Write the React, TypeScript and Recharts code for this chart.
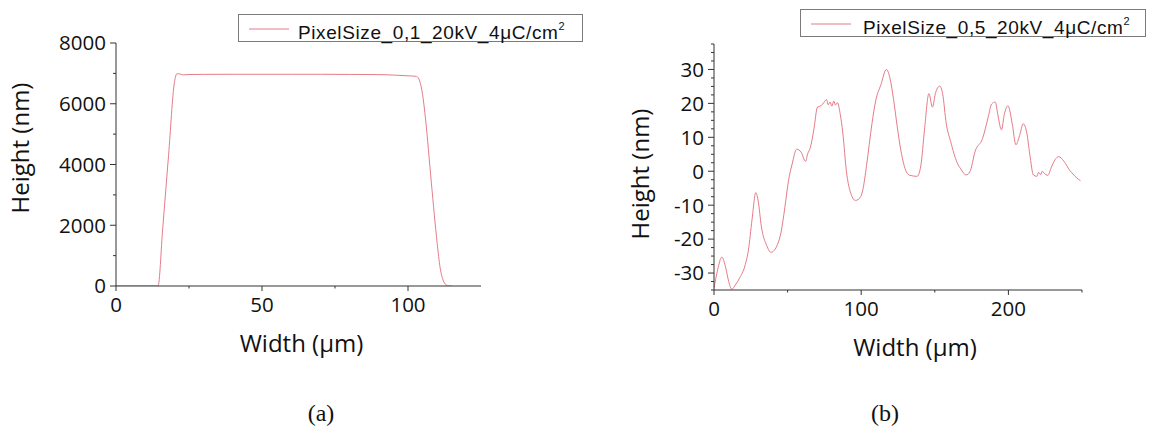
import React from "react";
import { LineChart, Line, XAxis, YAxis, Legend, Label } from "recharts";

// (a) pixel size 0.1
const widthA = [0, 5, 10, 14.4, 16, 18, 20, 20.9, 22, 23, 25, 30, 40, 50, 60, 70, 80, 90, 95, 100, 102.9, 104, 105, 106, 108, 110, 111, 112, 113, 114, 115];
const heightA = [0, 0, 0, 0, 1900, 4300, 6700, 6990, 6975, 6950, 6962, 6968, 6970, 6970, 6970, 6970, 6966, 6960, 6945, 6920, 6900, 6750, 6300, 5500, 3400, 1400, 600, 200, 40, 0, 0];

// (b) pixel size 0.5
const widthB = [0, 2.5, 5.3, 8, 10, 12, 14.5, 17.5, 21, 23.4, 25.8, 28.4, 30.1, 32.1, 35.8, 38.7, 43.2, 45.6, 48.1, 50.6, 53, 56.2, 59.2, 62.2, 63.6, 65.4, 67.8, 70.3, 72.8, 74.5, 76.5, 77.5, 78.9, 80, 81.4, 82.5, 83.8, 85.8, 87.5, 90, 92.5, 96.1, 98.1, 101.1, 103.6, 107.3, 109.8, 113.4, 117.1, 119.6, 122, 124.5, 127, 130.7, 133.1, 138, 140.5, 143, 146, 148.4, 150.4, 153.3, 155.3, 157.8, 160.8, 165.2, 167.6, 171.3, 173.8, 177.5, 182.4, 186.2, 188.6, 191.1, 192.8, 195.3, 197.2, 199.7, 202.6, 205.1, 207.6, 210.1, 212.5, 214.5, 217, 219.4, 220.5, 221.9, 223, 224.3, 226.8, 229.2, 231.7, 234.2, 237.8, 241.6, 244, 246.5, 249];
const heightB = [-34.5, -29, -25.3, -28.5, -32.5, -34.8, -33.5, -31.4, -27.9, -23.2, -14.4, -6.3, -9, -16.1, -21.9, -23.9, -21.5, -17.9, -10.8, -2.8, 2, 6.5, 5.6, 2.9, 5.1, 6.9, 12.2, 18.9, 19.3, 20.2, 21.1, 19.6, 20.4, 19.2, 20.7, 19.5, 20.2, 16.7, 11.3, -0.2, -5.9, -8.6, -8.3, -5.5, 1.6, 14, 20.7, 25.5, 30, 27.3, 21.1, 13.1, 6, -0.2, -1.2, -1.5, 1.6, 12.2, 22.9, 18.9, 22.9, 25.1, 22.9, 14, 8.7, 2.5, 0.7, -1.1, -0.2, 6, 9.6, 15.8, 19.8, 20.4, 16.7, 12.2, 16.7, 19.3, 14, 7.8, 10.5, 14, 11.3, 5.1, -1.1, -1.5, -0.3, -1, 0, -0.6, -1.2, 1.2, 3.4, 4.3, 2.9, 0.3, -0.9, -2, -2.8];

const ticksAX = [0, 25, 50, 75, 100];
const majorAX = [0, 50, 100];
const ticksAY = [0, 1000, 2000, 3000, 4000, 5000, 6000, 7000, 8000];
const majorAY = [0, 2000, 4000, 6000, 8000];
const ticksBX = [0, 50, 100, 150, 200, 250];
const majorBX = [0, 100, 200];
const ticksBY = [-35, -32.5, -30, -27.5, -25, -22.5, -20, -17.5, -15, -12.5, -10, -7.5, -5, -2.5, 0, 2.5, 5, 7.5, 10, 12.5, 15, 17.5, 20, 22.5, 25, 27.5, 30, 32.5, 35, 37.5];
const majorBY = [-30, -20, -10, 0, 10, 20, 30];

const dataA = widthA.map((w, i) => ({ w, h: heightA[i] }));
const dataB = widthB.map((w, i) => ({ w, h: heightB[i] }));

const AXIS = "#333";
const LINE = "#e47c88";
const TICK_SIZE = 5;
const TICK_MARGIN = 7;
const tickFont = { fontFamily: "'Open Sans', sans-serif", fontSize: 20.5, fill: "#111" };
const titleFont = { fontFamily: "'Open Sans', sans-serif", fontSize: 24, fill: "#111" };

const makeXTick = (major: number[]) => (props: any) => {
  const { x, y, payload } = props;
  const isMajor = major.includes(payload.value);
  const axisY = y - TICK_SIZE - TICK_MARGIN;
  return (
    <g>
      <line x1={x} x2={x} y1={axisY} y2={axisY + (isMajor ? TICK_SIZE : 2.5)} stroke={AXIS} />
      {isMajor && (
        <text x={x} y={y - 1} dy="0.71em" textAnchor="middle" {...tickFont}>
          {payload.value}
        </text>
      )}
    </g>
  );
};

const makeYTick = (major: number[]) => (props: any) => {
  const { x, y, payload } = props;
  const isMajor = major.includes(payload.value);
  const axisX = x + TICK_SIZE + TICK_MARGIN;
  return (
    <g>
      <line x1={axisX} x2={axisX - (isMajor ? TICK_SIZE + 1 : 3)} y1={y} y2={y} stroke={AXIS} />
      {isMajor && (
        <text x={x + 2} y={y} dy="0.36em" textAnchor="end" {...tickFont}>
          {payload.value}
        </text>
      )}
    </g>
  );
};

const LegendBox = ({ name, textLeft }: { name: string; textLeft: number }) => (
  <div
    style={{
      position: "relative",
      boxSizing: "border-box",
      height: 28,
      border: "1px solid #7a7a7a",
      background: "#fff",
    }}
  >
    <svg width={50} height={26} style={{ position: "absolute", left: 0, top: 0 }}>
      <line x1={10} x2={56} y1={14} y2={14} stroke={LINE} strokeWidth={1} />
    </svg>
    <span
      style={{
        position: "absolute",
        left: textLeft,
        top: 1,
        fontFamily: "'Liberation Sans', Arial, sans-serif",
        fontSize: 19,
        letterSpacing: 0.6,
        lineHeight: "20px",
        color: "#111",
        whiteSpace: "nowrap",
      }}
    >
      {name}
      <sup style={{ fontSize: 11, verticalAlign: "9px" }}>2</sup>
    </span>
  </div>
);

const Profile = ({
  data,
  name,
  xDomain,
  yDomain,
  xTicks,
  xMajor,
  yTicks,
  yMajor,
  width,
  margin,
  legend,
  xTitleDx,
  yTitle,
}: any) => (
  <LineChart width={width} height={443} data={data} margin={margin}>
    <XAxis
      dataKey="w"
      type="number"
      domain={xDomain}
      ticks={xTicks}
      interval={0}
      allowDataOverflow
      height={40}
      stroke={AXIS}
      tickLine={false}
      tickSize={TICK_SIZE}
      tickMargin={TICK_MARGIN}
      tick={makeXTick(xMajor)}
    >
      <Label
        content={(p: any) => (
          <text
            x={p.viewBox.x + p.viewBox.width / 2 + xTitleDx}
            y={p.viewBox.y + 66}
            textAnchor="middle"
            {...titleFont}
          >
            Width (μm)
          </text>
        )}
      />
    </XAxis>
    <YAxis
      type="number"
      domain={yDomain}
      ticks={yTicks}
      interval={0}
      allowDataOverflow
      width={60}
      stroke={AXIS}
      tickLine={false}
      tickSize={TICK_SIZE}
      tickMargin={TICK_MARGIN}
      tick={makeYTick(yMajor)}
    >
      <Label
        content={() => (
          <text
            x={yTitle[0]}
            y={yTitle[1]}
            textAnchor="middle"
            dominantBaseline="central"
            transform={`rotate(-90 ${yTitle[0]} ${yTitle[1]})`}
            {...titleFont}
          >
            Height (nm)
          </text>
        )}
      />
    </YAxis>
    <Legend
      content={() => <LegendBox name={name} textLeft={legend.textLeft} />}
      wrapperStyle={{ left: legend.left, top: legend.top, width: legend.width }}
    />
    <Line
      dataKey="h"
      name={name}
      type="monotone"
      stroke={LINE}
      strokeWidth={1}
      dot={false}
      isAnimationActive={false}
    />
  </LineChart>
);

const caption = {
  position: "absolute" as const,
  width: 60,
  textAlign: "center" as const,
  fontFamily: "'Liberation Serif', serif",
  fontSize: 24,
  lineHeight: "26px",
  color: "#111",
};

export default function App() {
  return (
    <div style={{ position: "absolute", left: 0, top: 0, width: 1149, height: 443, background: "#fff" }}>
      <div style={{ position: "absolute", left: 0, top: 0 }}>
        <Profile
          data={dataA}
          name="PixelSize_0,1_20kV_4μC/cm"
          xDomain={[0, 125]}
          yDomain={[0, 8000]}
          xTicks={ticksAX}
          xMajor={majorAX}
          yTicks={ticksAY}
          yMajor={majorAY}
          width={600}
          margin={{ top: 43, right: 119, bottom: 89, left: 56 }}
          legend={{ left: 238, top: 14, width: 345, textLeft: 59 }}
          xTitleDx={3}
          yTitle={[19, 148]}
        />
      </div>
      <div style={{ position: "absolute", left: 600, top: 0 }}>
        <Profile
          data={dataB}
          name="PixelSize_0,5_20kV_4μC/cm"
          xDomain={[0, 250]}
          yDomain={[-35, 37.5]}
          xTicks={ticksBX}
          xMajor={majorBX}
          yTicks={ticksBY}
          yMajor={majorBY}
          width={549}
          margin={{ top: 44, right: 67, bottom: 85, left: 54 }}
          legend={{ left: 200, top: 9, width: 346, textLeft: 62 }}
          xTitleDx={17}
          yTitle={[39, 174]}
        />
      </div>
      <div style={{ ...caption, left: 291, top: 400 }}>(a)</div>
      <div style={{ ...caption, left: 855, top: 400 }}>(b)</div>
    </div>
  );
}
